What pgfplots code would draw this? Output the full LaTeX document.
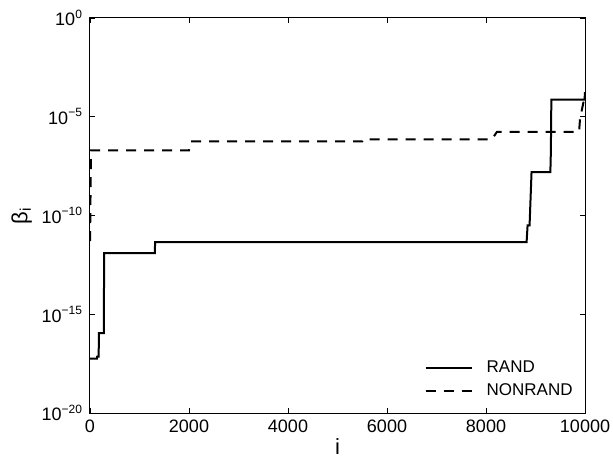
\documentclass[border=0pt]{standalone}
\usepackage{fontspec}
\setmainfont{Liberation Sans}
\usepackage{pgfplots}
\pgfplotsset{compat=1.18}
\begin{document}
\begin{tikzpicture}
\begin{axis}[
  at={(0,0)}, anchor=south west,
  scale only axis, width=247.5pt, height=197.5pt,
  xmin=0, xmax=10000,
  ymode=log, ymin=1e-20, ymax=1,
  xtick={0,2000,4000,6000,8000,10000},
  ytick={1e-20,1e-15,1e-10,1e-5,1},
  yticklabels={10\textsuperscript{−20},10\textsuperscript{−15},10\textsuperscript{−10},10\textsuperscript{−5},10\textsuperscript{0}},
  minor ytick={}, minor tick num=0,
  scaled x ticks=false,
  xticklabel style={/pgf/number format/1000 sep={}, /pgf/number format/assume math mode=true},
  tick label style={font=\fontsize{9}{10}\selectfont},
  tick align=inside, major tick length=2.5pt,
  tick style={line width=0.4pt, black},
  axis line style={line width=0.5pt},
  xlabel={i}, ylabel={β\textsubscript{i}},
  label style={font=\fontsize{11}{12}\selectfont},
  xlabel style={yshift=4pt},
  ylabel style={yshift=-2pt},
  legend style={at={(1,0)}, anchor=south east, draw=none, fill=none,
    font=\fontsize{8.5}{10}\selectfont, row sep=0pt,
    xshift=-1pt, yshift=3pt},
  legend cell align=left,
  legend image code/.code={\draw[#1] (0pt,0pt) -- (23pt,0pt); \path (28pt,0pt);},
]
%% RAND
\addplot[black, line width=1pt] coordinates {
  (1,5.62e-18) (140,5.62e-18) (145,7.08e-18) (175,7.08e-18)
  (180,1.12e-16) (280,1.12e-16) (285,1.26e-12) (1310,1.26e-12)
  (1315,4.47e-12) (8820,4.47e-12) (8840,3.16e-11) (8880,3.16e-11)
  (8920,1.58e-8) (9300,1.58e-8) (9310,1.58e-7) (9320,7.41e-5)
  (9990,7.41e-5) (10000,1.78e-4)
};
%% NONRAND
\addplot[black, line width=1pt, dash pattern=on 5pt off 4pt] coordinates {
  (1,5.01e-12) (20,2.0e-7) (2000,2.0e-7) (2040,5.62e-7)
  (5500,5.62e-7) (5520,7.24e-7) (8120,7.24e-7) (8220,1.70e-6)
  (9880,1.70e-6) (9900,8.32e-6) (10000,1.26e-4)
};
\legend{RAND, NONRAND}
\end{axis}
\pgfresetboundingbox
\path (-45pt,-23pt) rectangle (261.5pt,206.5pt);
\end{tikzpicture}
\end{document}
